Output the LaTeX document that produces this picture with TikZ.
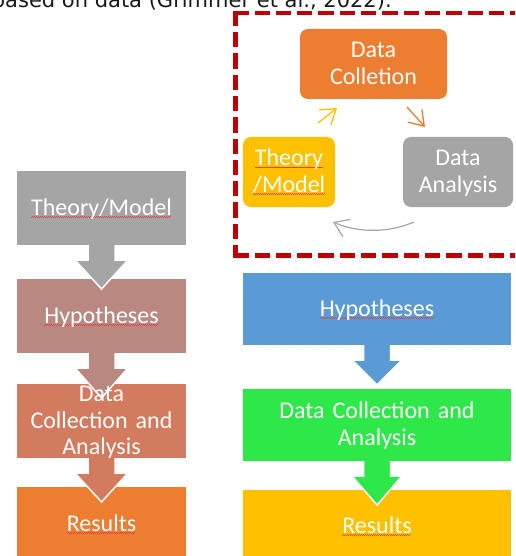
\documentclass[tikz,border=0pt]{standalone}
\usepackage{fontspec}
\setmainfont{Carlito}
\newfontfamily\notefont{DejaVu Sans}
\usetikzlibrary{arrows.meta,calc}

\definecolor{stepgray}{HTML}{A5A5A5}
\definecolor{steprose}{RGB}{185,136,128}
\definecolor{stepcoral}{RGB}{211,123,94}
\definecolor{steporange}{HTML}{ED7D31}
\definecolor{stepblue}{HTML}{5B9BD5}
\definecolor{stepgreen}{RGB}{46,232,74}
\definecolor{stepgold}{HTML}{FFC000}
\definecolor{framered}{HTML}{C00000}
\definecolor{spellred}{RGB}{232,64,64}
\definecolor{notegray}{RGB}{25,25,25}

\newcommand\cardfont{\fontsize{24}{26.5}\selectfont}
% red proofing squiggle under a word
\newcommand\spellmark[1]{\leavevmode\setbox0=\hbox{#1}%
  \rlap{\raisebox{-2.2pt}{\color{spellred}\leaders\hbox to 2pt{\rule{1pt}{0.6pt}\raisebox{0.6pt}{\rule{1pt}{0.6pt}}}\hskip\wd0}}%
  \box0}
% block arrow from one box down to the next: from, to, colour, head half width, tip offset
\newcommand\flowarrow[5]{%
  \path[fill=#3, draw=white, line width=1.5pt]
    ($(#1.south)+(-13.5,0)$) -- ($(#1.south)+(-13.5,15)$) -- ($(#1.south)+(-#4,15)$)
    -- ($(#1.south |- #2.north)+(0,#5)$)
    -- ($(#1.south)+(#4,15)$) -- ($(#1.south)+(13.5,15)$) -- ($(#1.south)+(13.5,0)$);}

\begin{document}
\begin{tikzpicture}[x=1pt,y=-1pt,
  panel/.style 2 args={draw=none, inner sep=0pt, outer sep=0pt, minimum width=#1, minimum height=#2},
  card/.style={panel={#1}{70pt}, rounded corners=8pt},
  boxtext/.style={inner sep=0pt, text=white, font=\cardfont, align=center, text width=#1,
                  text height=17pt, text depth=3pt},
  twolines/.style={text depth=29.5pt},
  threelines/.style={text depth=56pt},
  loop arrow/.style={line width=1.3pt, -{Straight Barb[length=14pt,width=19pt]}},
  frameline/.style={draw=framered, line width=4.5pt, dash pattern=on 15.3pt off 6pt},
]
\useasboundingbox (0,0) rectangle (515,556);
\clip (0,0) rectangle (515,556);

% caption line running off the top edge
\node[anchor=base west, inner sep=0pt, text=notegray, font=\notefont\fontsize{21}{25}\selectfont]
  (note) at (-8.3,7.5) {based on data (Grimmer et al., 2022).};

% linear process, left column
\node[panel={169pt}{74pt}, fill=stepgray]   (l1) at (101.5,208) {};
\node[panel={169pt}{74pt}, fill=steprose]   (l2) at (101.5,316) {};
\node[panel={169pt}{74pt}, fill=stepcoral]  (l3) at (101.5,421) {};
\node[panel={169pt}{74pt}, fill=steporange] (l4) at (101.5,524) {};

% linear process, right column
\node[panel={268pt}{72pt}, fill=stepblue]  (r1) at (377,309) {};
\node[panel={268pt}{72pt}, fill=stepgreen] (r2) at (377,425) {};
\node[panel={268pt}{72pt}, fill=stepgold]  (r3) at (377,526) {};

% block arrows
\flowarrow{l1}{l2}{stepgray}{26.5}{10}
\flowarrow{l2}{l3}{steprose}{26.5}{14}
\flowarrow{l3}{l4}{stepcoral}{26.5}{15}
\flowarrow{r1}{r2}{stepblue}{25}{-4}
\flowarrow{r2}{r3}{stepgreen}{25}{15}

% box texts
\node[boxtext=160pt] (l1t) at (l1) {\spellmark{Theory/Model}};
\node[boxtext=160pt] (l2t) at (l2) {\spellmark{Hypotheses}};
\node[boxtext=160pt, threelines] (l3t) at (l3) {Data\\Collection and\\Analysis};
\node[boxtext=160pt] (l4t) at (l4) {\spellmark{Results}};
\node[boxtext=250pt] (r1t) at (r1) {\spellmark{Hypotheses}};
\node[boxtext=250pt, twolines] (r2t) at (r2) {Data Collection and\\Analysis};
\node[boxtext=250pt] (r3t) at (r3) {\spellmark{Results}};

% research cycle
\node[card=147pt, fill=steporange] (c1) at (373.5,64) {};
\node[card=92pt,  fill=stepgold]   (c2) at (289,172) {};
\node[card=110pt, fill=stepgray]   (c3) at (458,172) {};
\node[boxtext=140pt, twolines] (c1t) at (c1) {Data\\Colletion};
\node[boxtext=90pt,  twolines] (c2t) at (c2) {\spellmark{Theory}\\\spellmark{/Model}};
\node[boxtext=108pt, twolines] (c3t) at (c3) {Data\\Analysis};

\coordinate (ya) at (318,123);
\coordinate (yb) at (337,108);
\coordinate (oa) at (407,107);
\coordinate (ob) at (425,127);
\coordinate (ga) at (414,222);
\coordinate (gb) at (333,222);
\draw[loop arrow, stepgold]   (ya) -- (yb);
\draw[loop arrow, steporange] (oa) -- (ob);
\draw[loop arrow, stepgray, line width=1.2pt] (ga) .. controls (389,233) and (358,233) .. (gb);

% dashed frame round the cycle
\draw[frameline] (233.25,13) -- (530,13);
\draw[frameline] (235.5,10.75) -- (235.5,257.75);
\draw[frameline] (233.25,255.5) -- (530,255.5);
\end{tikzpicture}
\end{document}
